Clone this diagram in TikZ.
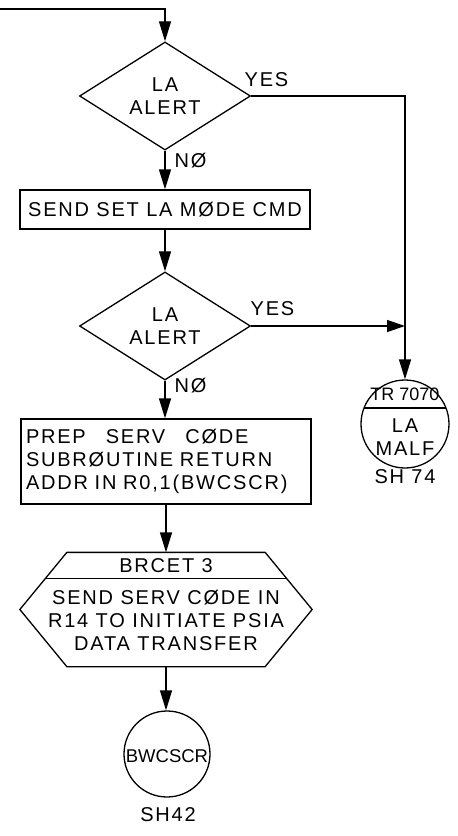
\documentclass[tikz,border=0pt]{standalone}
\usepackage{fontspec}
\setmainfont{Liberation Sans}[LetterSpace=9]
\newfontfamily\tightfont{Liberation Sans}
\usetikzlibrary{shapes.geometric,arrows.meta,calc}
\begin{document}
\begin{tikzpicture}[x=1pt,y=-1pt,
  line width=1.3pt,
  every node/.style={font=\fontsize{20}{23}\selectfont, inner sep=0pt},
  dec/.style={draw, diamond, minimum width=171pt, minimum height=98pt, align=center},
  proc/.style={draw, rectangle, minimum width=290pt, align=left},
  conn/.style={draw, circle, minimum size=88pt},
  intext/.style={font=\tightfont\fontsize{18}{22}\selectfont},
  lbl/.style={anchor=west},
  arr/.style={-{Triangle[length=20pt,width=12pt]}},
]
\useasboundingbox (0,0) rectangle (458,836);
% nodes
\coordinate (start) at (0,9);
\node[dec] (d1) at (165,96) {LA\\ALERT};
\node[proc, minimum height=39pt, align=center] (b1) at (165,209.5) {SEND SET LA MØDE CMD};
\node[dec] (d2) at (165,326) {LA\\ALERT};
\node[proc, minimum height=85pt, text width=280pt] (b2) at (166,461.5)
  {PREP~~~SERV~~~CØDE\\SUBRØUTINE RETURN\\ADDR IN R0,1(BWCSCR)};
\node[minimum width=291pt, minimum height=113pt] (hex) at (166,609.5) {};
\node (hexhead) at (166,566) {BRCET 3};
\node[align=center] (hexbody) at (166,620) {SEND SERV CØDE IN\\R14 TO INITIATE PSIA\\DATA TRANSFER};
\node[conn] (c1) at (405,424) {};
\node[intext] (c1top) at (405,394) {TR 7070};
\node[align=center] (c1bot) at (405,437) {LA\\MALF};
\node (sh74) at (405,477) {SH 74};
\node[conn, minimum size=86pt] (c2) at (167,754) {};
\node[intext, font=\tightfont\fontsize{18.5}{22}\selectfont] (c2txt) at (167,756) {BWCSCR};
\node (sh42) at (168,815) {SH42};
% hexagon outline
\draw ([xshift=47pt]hex.north west) -- ([xshift=-47pt]hex.north east) -- (hex.east)
  -- ([xshift=-47pt]hex.south east) -- ([xshift=47pt]hex.south west) -- (hex.west) -- cycle;
\draw ($(hex.north west)+(25.4,26)$) -- ($(hex.north east)+(-25.4,26)$);
% circle divider
\draw ($(c1.center)+(-41,-16)$) -- ($(c1.center)+(41,-16)$);
% labels
\node[lbl] (yes1) at (244,80) {YES};
\node[lbl] (no1) at (174,161) {NØ};
\node[lbl] (yes2) at (250,309) {YES};
\node[lbl] (no2) at (174,386) {NØ};
% connectors
\draw[arr] (start) -| (d1.north);
\draw[arr] (d1.east) -| (c1.north);
\draw[arr] (d1.south) -- (b1.north);
\draw[arr] (b1.south) -- (d2.north);
\coordinate (join) at (d2.east -| c1.north);
\draw[-{Triangle[length=18pt,width=12pt]}] (d2.east) -- (join);
\draw[arr] (d2.south) -- (d2.south |- b2.north);
\draw[arr] (b2.south) -- (b2.south |- hex.north);
\draw[arr] (hex.south) -- (hex.south |- c2.north);
\end{tikzpicture}
\end{document}
